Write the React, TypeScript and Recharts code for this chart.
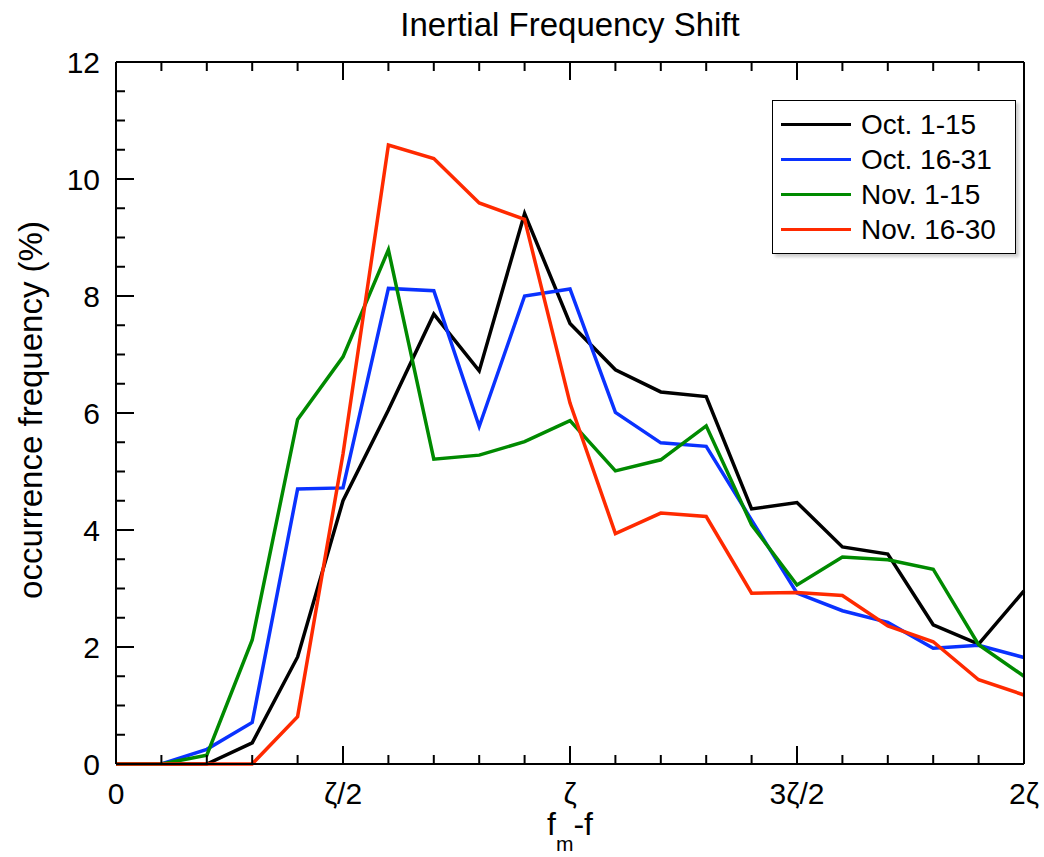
import React from 'react'
import { LineChart, Line, XAxis, YAxis, Legend } from 'recharts'

// x in units of zeta
const xs = [0, 0.1, 0.2, 0.3, 0.4, 0.5, 0.6, 0.7, 0.8, 0.9, 1.0, 1.1, 1.2, 1.3, 1.4, 1.5, 1.6, 1.7, 1.8, 1.9, 2.0]
const oct1 = [0, 0, 0, 0.36, 1.83, 4.5, 6.05, 7.69, 6.72, 9.41, 7.53, 6.74, 6.36, 6.28, 4.36, 4.47, 3.71, 3.59, 2.38, 2.05, 2.96]
const oct16 = [0, 0, 0.25, 0.71, 4.7, 4.72, 8.13, 8.09, 5.77, 8.0, 8.12, 6.01, 5.49, 5.43, 4.17, 2.92, 2.62, 2.42, 1.98, 2.03, 1.82]
const nov1 = [0, 0, 0.15, 2.12, 5.89, 6.96, 8.79, 5.21, 5.28, 5.51, 5.87, 5.01, 5.2, 5.78, 4.09, 3.06, 3.54, 3.49, 3.33, 2.04, 1.5]
const nov16 = [0, 0, 0, 0, 0.81, 5.3, 10.58, 10.35, 9.59, 9.31, 6.17, 3.94, 4.29, 4.23, 2.92, 2.93, 2.88, 2.36, 2.09, 1.44, 1.18]

const seriesNames = ['Oct. 1-15', 'Oct. 16-31', 'Nov. 1-15', 'Nov. 16-30']
const xMajor = [0, 0.5, 1, 1.5, 2]
const xMajorLabels = ['0', 'ζ/2', 'ζ', '3ζ/2', '2ζ']
const yTicks = [0, 0.5, 1, 1.5, 2, 2.5, 3, 3.5, 4, 4.5, 5, 5.5, 6, 6.5, 7, 7.5, 8, 8.5, 9, 9.5, 10, 10.5, 11, 11.5, 12]
const yMajor = [0, 2, 4, 6, 8, 10, 12]

const FONT = '"Liberation Sans", Arial, Helvetica, sans-serif'
const MAJOR = 18
const MINOR = 9

const data = xs.map((x, i) => ({
  x,
  oct1: oct1[i],
  oct16: oct16[i],
  nov1: nov1[i],
  nov16: nov16[i],
}))

const BottomTick = (props: any) => {
  const { x, y, payload } = props
  const idx = xMajor.indexOf(payload.value)
  return (
    <g>
      <line x1={x} y1={y} x2={x} y2={y - (idx >= 0 ? MAJOR : MINOR)} stroke="#000" strokeWidth={2} />
      {idx >= 0 && (
        <text x={x} y={y + 40} textAnchor="middle" fontSize={30} fontFamily={FONT} fill="#000">
          {xMajorLabels[idx]}
        </text>
      )}
    </g>
  )
}

const TopTick = (props: any) => {
  const { x, y, payload } = props
  const major = xMajor.includes(payload.value)
  return <line x1={x} y1={y} x2={x} y2={y + (major ? MAJOR : MINOR)} stroke="#000" strokeWidth={2} />
}

const LeftTick = (props: any) => {
  const { x, y, payload } = props
  const major = yMajor.includes(payload.value)
  return (
    <g>
      <line x1={x} y1={y} x2={x + (major ? MAJOR : MINOR)} y2={y} stroke="#000" strokeWidth={2} />
      {major && (
        <text x={x - 16} y={y + 11} textAnchor="end" fontSize={30} fontFamily={FONT} fill="#000">
          {payload.value}
        </text>
      )}
    </g>
  )
}

const RightTick = (props: any) => {
  const { x, y, payload } = props
  const major = yMajor.includes(payload.value)
  return <line x1={x} y1={y} x2={x - (major ? MAJOR : MINOR)} y2={y} stroke="#000" strokeWidth={2} />
}

const renderLegend = (props: any) => {
  const items = [...(props.payload || [])].sort(
    (a: any, b: any) => seriesNames.indexOf(a.value) - seriesNames.indexOf(b.value)
  )
  return (
    <div
      style={{
        border: '1.5px solid #000',
        background: '#fff',
        boxShadow: '3px 3px 3px rgba(0,0,0,0.2)',
        padding: '6px 14px 6px 8px',
        fontFamily: FONT,
        fontSize: 28,
        width: 220,
      }}
    >
      {items.map((entry: any) => (
        <div key={entry.value} style={{ display: 'flex', alignItems: 'center', height: 35 }}>
          <div style={{ width: 70, height: 3, background: entry.color, marginRight: 10 }} />
          <span style={{ color: '#000' }}>{entry.value}</span>
        </div>
      ))}
    </div>
  )
}

export default function App() {
  return (
    <div style={{ position: 'absolute', left: 0, top: 0, width: 1044, height: 857, background: '#fff' }}>
      <div
        style={{
          position: 'absolute',
          left: 570,
          top: 6,
          transform: 'translateX(-50%)',
          fontFamily: FONT,
          fontSize: 33,
          whiteSpace: 'nowrap',
        }}
      >
        Inertial Frequency Shift
      </div>
      <div
        style={{
          position: 'absolute',
          left: 31,
          top: 410,
          transform: 'translate(-50%, -50%) rotate(-90deg)',
          fontFamily: FONT,
          fontSize: 33,
          whiteSpace: 'nowrap',
        }}
      >
        occurrence frequency (%)
      </div>
      <div
        style={{
          position: 'absolute',
          left: 570,
          top: 806,
          transform: 'translateX(-50%)',
          fontFamily: FONT,
          fontSize: 32,
          whiteSpace: 'nowrap',
          lineHeight: '36px',
        }}
      >
        f<span style={{ fontSize: 21, position: 'relative', top: 16 }}>m</span>-f
      </div>
      <LineChart
        width={1044}
        height={857}
        data={data}
        margin={{ top: 52, right: 10, bottom: 63, left: 56 }}
      >
        <XAxis
          dataKey="x"
          type="number"
          domain={[0, 2]}
          ticks={xs}
          interval={0}
          tickLine={false}
          tickSize={0}
          tickMargin={0}
          height={30}
          axisLine={{ stroke: '#000', strokeWidth: 2 }}
          tick={<BottomTick />}
        />
        <XAxis
          xAxisId="top"
          orientation="top"
          dataKey="x"
          type="number"
          domain={[0, 2]}
          ticks={xs}
          interval={0}
          tickLine={false}
          tickSize={0}
          tickMargin={0}
          height={10}
          axisLine={{ stroke: '#000', strokeWidth: 2 }}
          tick={<TopTick />}
        />
        <YAxis
          type="number"
          domain={[0, 12]}
          ticks={yTicks}
          interval={0}
          tickLine={false}
          tickSize={0}
          tickMargin={0}
          width={60}
          axisLine={{ stroke: '#000', strokeWidth: 2 }}
          tick={<LeftTick />}
        />
        <YAxis
          yAxisId="right"
          orientation="right"
          type="number"
          domain={[0, 12]}
          ticks={yTicks}
          interval={0}
          tickLine={false}
          tickSize={0}
          tickMargin={0}
          width={10}
          axisLine={{ stroke: '#000', strokeWidth: 2 }}
          tick={<RightTick />}
        />
        <Legend
          layout="vertical"
          align="center"
          verticalAlign="middle"
          content={renderLegend}
          wrapperStyle={{ top: 100, left: 772, width: 'auto', height: 'auto' }}
        />
        <Line dataKey="oct1" name={seriesNames[0]} stroke="#000000" strokeWidth={3.5} dot={false} isAnimationActive={false} />
        <Line dataKey="oct16" name={seriesNames[1]} stroke="#0a32ff" strokeWidth={3.5} dot={false} isAnimationActive={false} />
        <Line dataKey="nov1" name={seriesNames[2]} stroke="#008a00" strokeWidth={3.5} dot={false} isAnimationActive={false} />
        <Line dataKey="nov16" name={seriesNames[3]} stroke="#ff2a00" strokeWidth={3.5} dot={false} isAnimationActive={false} />
      </LineChart>
    </div>
  )
}
